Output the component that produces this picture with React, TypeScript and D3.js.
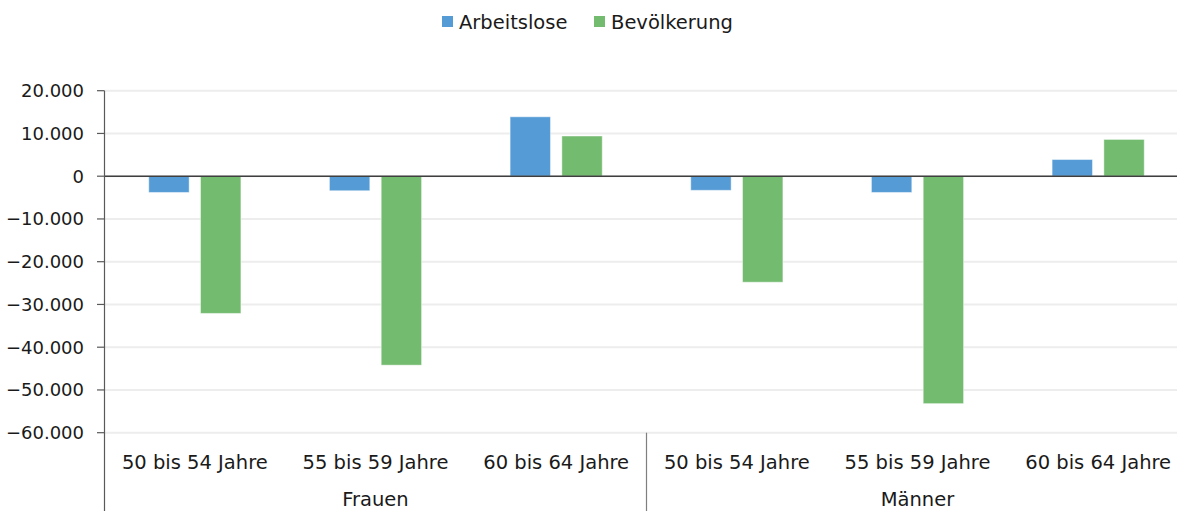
import React from "react";
import * as d3 from "d3";

const categories = ["50 bis 54 Jahre", "55 bis 59 Jahre", "60 bis 64 Jahre", "50 bis 54 Jahre", "55 bis 59 Jahre", "60 bis 64 Jahre"];
const groups = ["Frauen", "Männer"];
const seriesNames = ["Arbeitslose", "Bevölkerung"];
const arbeitslose = [-3800, -3400, 13900, -3300, -3800, 3900];
const bevoelkerung = [-32100, -44200, 9400, -24800, -53200, 8600];
const yTicks = [20000, 10000, 0, -10000, -20000, -30000, -40000, -50000, -60000];
const colors = ["#559BD6", "#73BB6F"];

const W = 1177;
const H = 511;
const FONT = "'DejaVu Sans', sans-serif";

export default function App() {
  const x0 = d3.scaleBand<number>().domain(d3.range(categories.length)).range([104.5, 1188.5]).paddingInner(0.49).paddingOuter(0.245);
  const x1 = d3.scaleBand<number>().domain([0, 1]).range([0, x0.bandwidth()]).paddingInner(0.22);
  const y = d3.scaleLinear().domain([-60000, 20000]).range([432.7, 90.7]);
  const fmt = (v: number) => d3.format(",")(v).replace(/,/g, ".");
  const step = x0.step();
  const start = 104.5;
  const series = [arbeitslose, bevoelkerung];

  return (
    <svg width={W} height={H} style={{ position: "absolute", left: 0, top: 0, background: "#fff" }} fontFamily={FONT}>
      {yTicks.map((t) => (
        <line key={"g" + t} x1={104.5} x2={W} y1={y(t)} y2={y(t)} stroke="#EDEDED" strokeWidth={2} />
      ))}
      {series.map((vals, si) =>
        vals.map((v, ci) => {
          const bx = (x0(ci) as number) + (x1(si) as number);
          return (
            <rect
              key={`b${si}-${ci}`}
              x={bx}
              y={Math.min(y(v), y(0))}
              width={x1.bandwidth()}
              height={Math.abs(y(v) - y(0))}
              fill={colors[si]}
              stroke="rgba(255,255,255,0.45)"
              strokeWidth={1}
            />
          );
        })
      )}
      <line x1={104.5} x2={W} y1={y(0)} y2={y(0)} stroke="#3F3F3F" strokeWidth={1.5} />
      <line x1={104.5} x2={104.5} y1={y(20000)} y2={H} stroke="#595959" strokeWidth={1.2} />
      {yTicks.map((t) => (
        <g key={"t" + t}>
          <line x1={97} x2={104.5} y1={y(t)} y2={y(t)} stroke="#595959" strokeWidth={1.2} />
          <text x={84} y={y(t)} dy="0.36em" textAnchor="end" fontSize={18} fill="#1a1a1a">
            {fmt(t)}
          </text>
        </g>
      ))}
      <line x1={start + step * 3} x2={start + step * 3} y1={y(-60000)} y2={H} stroke="#7f7f7f" strokeWidth={1.2} />
      {categories.map((c, i) => (
        <text key={"c" + i} x={(x0(i) as number) + x0.bandwidth() / 2} y={469} textAnchor="middle" fontSize={19.5} fill="#1a1a1a">
          {c}
        </text>
      ))}
      {groups.map((g, i) => (
        <text key={"gr" + i} x={start + step * (3 * i + 1.5)} y={506} textAnchor="middle" fontSize={19.5} fill="#1a1a1a">
          {g}
        </text>
      ))}
      <g>
        <rect x={442} y={16} width={11} height={11} fill={colors[0]} />
        <text x={459} y={22} dy="0.36em" fontSize={19.5} fill="#1a1a1a">{seriesNames[0]}</text>
        <rect x={594} y={16} width={11} height={11} fill={colors[1]} />
        <text x={611} y={22} dy="0.36em" fontSize={19.5} fill="#1a1a1a">{seriesNames[1]}</text>
      </g>
    </svg>
  );
}
